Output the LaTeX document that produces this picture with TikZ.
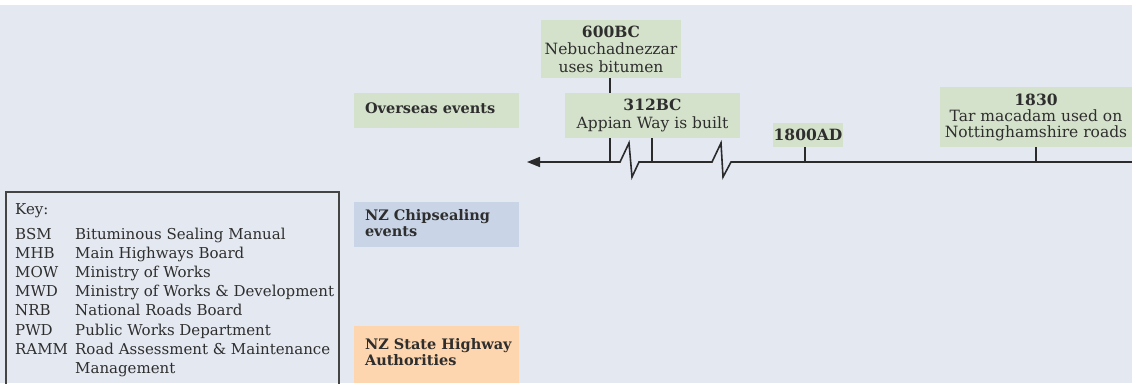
\documentclass[tikz,border=0pt]{standalone}
\usepackage{fontspec}
\setmainfont{DejaVu Serif}
\usetikzlibrary{arrows.meta}
\definecolor{bgc}{HTML}{E4E8F1}
\definecolor{evgreen}{HTML}{D5E2CB}
\definecolor{catblue}{HTML}{C9D5E6}
\definecolor{catorange}{HTML}{FDD5AE}
\definecolor{txt}{HTML}{2E2E2E}
\definecolor{linec}{HTML}{2B2B2B}
\definecolor{keyline}{HTML}{444444}
\begin{document}
\begin{tikzpicture}[x=1pt,y=-1pt,
  font=\fontsize{15}{17.5}\selectfont,
  evbox/.style={fill=evgreen, inner sep=0pt, align=center, text=txt,
    font=\fontsize{15.5}{17.5}\selectfont},
  catbox/.style={inner sep=0pt, minimum width=165pt, minimum height=#1},
  cattxt/.style={anchor=west, inner sep=0pt, align=left, text=txt,
    font=\fontsize{14.5}{16}\selectfont\bfseries},
  tick/.style={draw=linec, line width=1.4pt},
  axisline/.style={draw=linec, line width=1.6pt, -{Triangle[length=13pt,width=10pt]}},
  keytxt/.style={anchor=base west, inner sep=0pt, text=txt}
]
\useasboundingbox (0,0) rectangle (1132,383);
\fill[white] (0,0) rectangle (1132,5);
\fill[bgc] (0,5) rectangle (1132,383);

% category labels
\node[catbox=35pt, fill=evgreen] (over) at (436.5,110.5) {};
\node[cattxt] (overt) at ([xshift=11pt,yshift=2pt]over.west) {Overseas events};
\node[catbox=45pt, fill=catblue] (chip) at (436.5,224.5) {};
\node[cattxt] (chipt) at ([xshift=11pt,yshift=1.5pt]chip.west) {NZ Chipsealing\\events};
\node[catbox=57pt, fill=catorange] (state) at (436.5,354.5) {};
\node[cattxt] (statet) at ([xshift=11pt,yshift=2pt]state.west) {NZ State Highway\\Authorities};

% event boxes
\node[evbox, minimum width=140pt, minimum height=58pt] (e600) at (611,49)
  {\textbf{600BC}\\Nebuchadnezzar\\uses bitumen};
\node[evbox, minimum width=175pt, minimum height=45pt] (e312) at (652.5,115.5)
  {\textbf{312BC}\\Appian Way is built};
\node[evbox, minimum width=70pt, minimum height=24pt] (e1800) at (808,135)
  {\textbf{1800AD}};
\node[evbox, minimum width=192pt, minimum height=60pt, font=\fontsize{15.5}{16}\selectfont] (e1830) at (1036,117)
  {\textbf{1830}\\Tar macadam used on\\Nottinghamshire roads};

% axis
\coordinate (axR) at (1134,162);
\coordinate (axL) at (527,162);
\coordinate (t600) at (610,162);
\coordinate (t312) at (652,162);
\coordinate (t1800) at (805,162);
\coordinate (t1830) at (1036,162);
\draw[axisline] (axR) -- (731,162) -- (723,177) -- (721,143) -- (712,162)
  -- (639,162) -- (632,177) -- (629,143) -- (620,162) -- (axL);
\draw[tick] (e600.south -| t600) -- (e312.north -| t600);
\draw[tick] (e312.south -| t600) -- (t600);
\draw[tick] (e312.south -| t312) -- (t312);
\draw[tick] (e1800.south -| t1800) -- (t1800);
\draw[tick] (e1830.south -| t1830) -- (t1830);

% key
\draw[draw=keyline, line width=1.2pt] (6,395) -- (6,192) -- (339,192) -- (339,395);
\node[keytxt] (keyhead) at (15,214) {Key:};
\foreach \i/\ab/\de in {0/BSM/Bituminous Sealing Manual,
  1/MHB/Main Highways Board,
  2/MOW/Ministry of Works,
  3/MWD/Ministry of Works \& Development,
  4/NRB/National Roads Board,
  5/PWD/Public Works Department,
  6/RAMM/Road Assessment \& Maintenance}{
  \node[keytxt] (ka\i) at (15,239+19.2*\i) {\ab};
  \node[keytxt] (kd\i) at (75,239+19.2*\i) {\de};
}
\node[keytxt] (kd7) at (75,239+19.2*7) {Management};
\end{tikzpicture}
\end{document}
